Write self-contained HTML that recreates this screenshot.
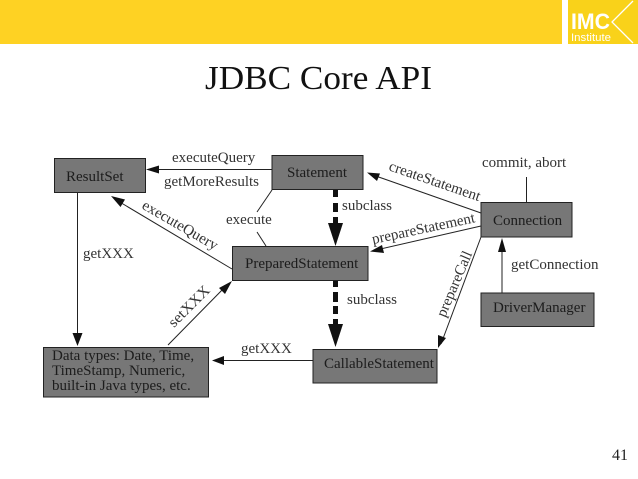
<!DOCTYPE html>
<html><head><meta charset="utf-8"><style>
html,body{margin:0;padding:0;background:#fff}
svg{display:block}
text{font-family:"Liberation Serif",serif;fill:#333}
.l{font-size:15px}
.n{font-size:15px;fill:#1c1c1c}
</style></head><body>
<svg width="638" height="479" viewBox="0 0 638 479" xmlns="http://www.w3.org/2000/svg">
<rect width="638" height="479" fill="#fff"/>
<rect x="0" y="0" width="562" height="44" fill="#fed223"/>
<rect x="568" y="0" width="70" height="44" fill="#f9d21a"/>
<path d="M633 1 L612 22 L633 43" fill="none" stroke="#fff" stroke-width="1.3"/>
<text x="571" y="29" style="font-family:'Liberation Sans',sans-serif;font-weight:bold;font-size:22px;fill:#fff" textLength="39" lengthAdjust="spacingAndGlyphs">IMC</text>
<text x="571" y="41" style="font-family:'Liberation Sans',sans-serif;font-size:11px;fill:#fff" textLength="40" lengthAdjust="spacingAndGlyphs">Institute</text>

<text x="205" y="89" style="font-size:34px;fill:#111" textLength="227" lengthAdjust="spacingAndGlyphs">JDBC Core API</text>
<text x="612" y="460" style="font-size:16px;fill:#222">41</text>

<g fill="#777" stroke="#222" stroke-width="1">
<rect x="54.500" y="158.500" width="91" height="34"/>
<rect x="272" y="155.500" width="91" height="34"/>
<rect x="232.500" y="246.500" width="135.500" height="34"/>
<rect x="43.500" y="347.500" width="165" height="49.500"/>
<rect x="313" y="349.500" width="124" height="33.500"/>
<rect x="481" y="202.500" width="91" height="34.500"/>
<rect x="481" y="293" width="113" height="33.500"/>
</g>

<g stroke="#222" stroke-width="1" fill="none">
<path d="M272 169.500H152"/>
<path d="M77.500 192V343"/>
<path d="M232 269L118 201"/>
<path d="M168 345L226 286"/>
<path d="M313 360.500H216"/>
<path d="M272 190L257 212"/>
<path d="M257 232L266 246"/>
<path d="M481 213L373 175"/>
<path d="M481 226L376 250"/>
<path d="M481 237L441 344"/>
<path d="M502 293V244"/>
<path d="M526.500 202V177"/>
</g>
<g fill="#111">
<path d="M146 169.500L159 165.500V173.500Z"/>
<path d="M77.500 346L72.500 333H82.500Z"/>
<path d="M111 196L125 199.500L120.500 207Z"/>
<path d="M232 281L225 294L219 288Z"/>
<path d="M212 360.500L224 356V365Z"/>
<path d="M367 172.500L380 173.500L377 181Z"/>
<path d="M370 251.500L382 245L384 253Z"/>
<path d="M438 348L438 335L446 338Z"/>
<path d="M502 238L498 252H506Z"/>
<path d="M335.500 246L328 223H343Z"/>
<path d="M335.500 347L328 324H343Z"/>
<rect x="333" y="190" width="5" height="7"/>
<rect x="333" y="203" width="5" height="9"/>
<rect x="333" y="217" width="5" height="7"/>
<rect x="333" y="281" width="5" height="6"/>
<rect x="333" y="292" width="5" height="10"/>
<rect x="333" y="306" width="5" height="8"/>
<rect x="333" y="319" width="5" height="6"/>
</g>

<g>
<text class="n" x="66" y="181">ResultSet</text>
<text class="n" x="287" y="177">Statement</text>
<text class="n" x="245" y="268">PreparedStatement</text>
<text class="n" x="324" y="368">CallableStatement</text>
<text class="n" x="493" y="225">Connection</text>
<text class="n" x="493" y="312">DriverManager</text>
<text class="n" x="52" y="360">Data types: Date, Time,</text>
<text class="n" x="52" y="375">TimeStamp, Numeric,</text>
<text class="n" x="52" y="390">built-in Java types, etc.</text>
</g>

<g>
<text class="l" x="172" y="162">executeQuery</text>
<text class="l" x="164" y="186">getMoreResults</text>
<text class="l" x="83" y="258">getXXX</text>
<text class="l" x="226" y="224">execute</text>
<text class="l" x="342" y="210">subclass</text>
<text class="l" x="347" y="304">subclass</text>
<text class="l" x="241" y="353">getXXX</text>
<text class="l" x="482" y="167">commit, abort</text>
<text class="l" x="511" y="269">getConnection</text>
<text class="l" transform="translate(141,208) rotate(30)" textLength="85" lengthAdjust="spacingAndGlyphs">executeQuery</text>
<text class="l" transform="translate(174,328) rotate(-45)" textLength="52" lengthAdjust="spacingAndGlyphs">setXXX</text>
<text class="l" transform="translate(388,170) rotate(19)">createStatement</text>
<text class="l" transform="translate(373,244) rotate(-12)">prepareStatement</text>
<text class="l" transform="translate(445,318) rotate(-67)" textLength="70" lengthAdjust="spacingAndGlyphs">prepareCall</text>
</g>
</svg>
</body></html>
